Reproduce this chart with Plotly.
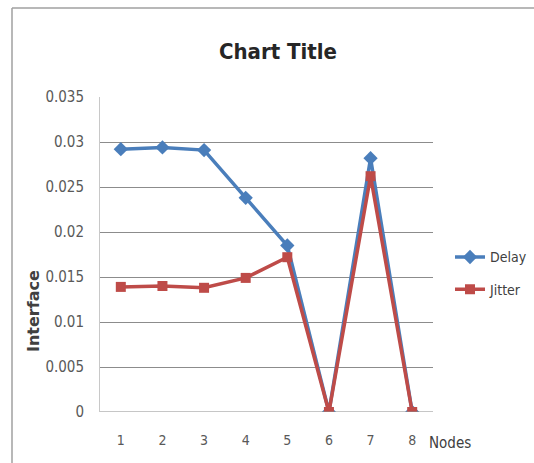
import plotly.graph_objects as go

# Node indices and measured series
nodes = [1, 2, 3, 4, 5, 6, 7, 8]
delay = [0.0292, 0.0294, 0.0291, 0.0238, 0.0185, 0.0, 0.0282, 0.0]
jitter = [0.0139, 0.0140, 0.0138, 0.0149, 0.0172, 0.0, 0.0262, 0.0]
y_ticks = [0, 0.005, 0.01, 0.015, 0.02, 0.025, 0.03, 0.035]
y_tick_text = ["0", "0.005", "0.01", "0.015", "0.02", "0.025", "0.03", "0.035"]

BLUE = "#4A7EBB"
RED = "#BE4B48"
FONT = "DejaVu Sans Condensed"

fig = go.Figure()
fig.add_trace(go.Scatter(
    x=nodes, y=delay, name="Delay", mode="lines+markers",
    line=dict(color=BLUE, width=3.5),
    marker=dict(symbol="diamond", size=11, color=BLUE),
    legendgroup="delay",
))
fig.add_trace(go.Scatter(
    x=nodes, y=jitter, name="Jitter", mode="lines+markers",
    line=dict(color=RED, width=3.5),
    marker=dict(symbol="square", size=10, color=RED),
    legendgroup="jitter",
))

fig.update_layout(
    width=534, height=463,
    margin=dict(l=100, r=101, t=97, b=51, autoexpand=False),
    paper_bgcolor="white", plot_bgcolor="white",
    font=dict(family=FONT, color="#595959", size=14),
    title=dict(text="Chart Title", x=278 / 534, xanchor="center",
               y=1 - 51 / 463, yanchor="middle",
               font=dict(family=FONT, size=22, color="#262626", weight="bold")),
    showlegend=True,
    legend=dict(x=(450 - 100) / 333, xanchor="left", y=0.44, yanchor="middle",
                itemwidth=30, tracegroupgap=11, traceorder="grouped",
                bgcolor="rgba(0,0,0,0)",
                font=dict(family=FONT, size=14, color="#404040")),
)

fig.update_xaxes(
    range=[0.5, 8.5], tickvals=nodes, ticktext=[str(n) for n in nodes],
    showgrid=False, zeroline=False, showline=False,
    ticks="", ticklabelstandoff=18,
    tickfont=dict(family=FONT, size=14, color="#595959"),
)
fig.update_yaxes(
    range=[0, 0.035], tickvals=y_ticks, ticktext=y_tick_text,
    showgrid=True, gridcolor="#8C8C8C", gridwidth=1,
    zeroline=False, showline=True, linecolor="#C8C8C8", linewidth=1,
    ticks="", ticklabelstandoff=12,
    tickfont=dict(family=FONT, size=15, color="#595959"),
)

# Y-axis label, sitting low beside the value axis
fig.add_annotation(text="Interface", textangle=-90, xref="paper", yref="paper",
                   x=(33 - 100) / 333, xanchor="center",
                   y=(412 - 311) / 315, yanchor="middle", showarrow=False,
                   font=dict(family="DejaVu Sans", size=16, color="#404040",
                             weight="bold"))

# Baseline at zero
fig.add_shape(type="line", xref="paper", yref="y", x0=0, x1=1, y0=0, y1=0,
              line=dict(color="#8C8C8C", width=1))

# Outer chart frame (top and left edges)
fig.add_shape(type="line", xref="paper", yref="paper",
              x0=(12 - 100) / 333, x1=(540 - 100) / 333,
              y0=(412 - 8) / 315, y1=(412 - 8) / 315,
              line=dict(color="#A0A0A0", width=1.5))
fig.add_shape(type="line", xref="paper", yref="paper",
              x0=(12 - 100) / 333, x1=(12 - 100) / 333,
              y0=(412 - 8) / 315, y1=(412 - 470) / 315,
              line=dict(color="#A0A0A0", width=1.5))

fig.add_annotation(text="Nodes", xref="paper", yref="paper",
                   x=(427 - 100) / 333, xanchor="left",
                   y=(412 - 443) / 315, yanchor="middle",
                   showarrow=False,
                   font=dict(family=FONT, size=15, color="#404040"))

fig.write_html("out.html")
